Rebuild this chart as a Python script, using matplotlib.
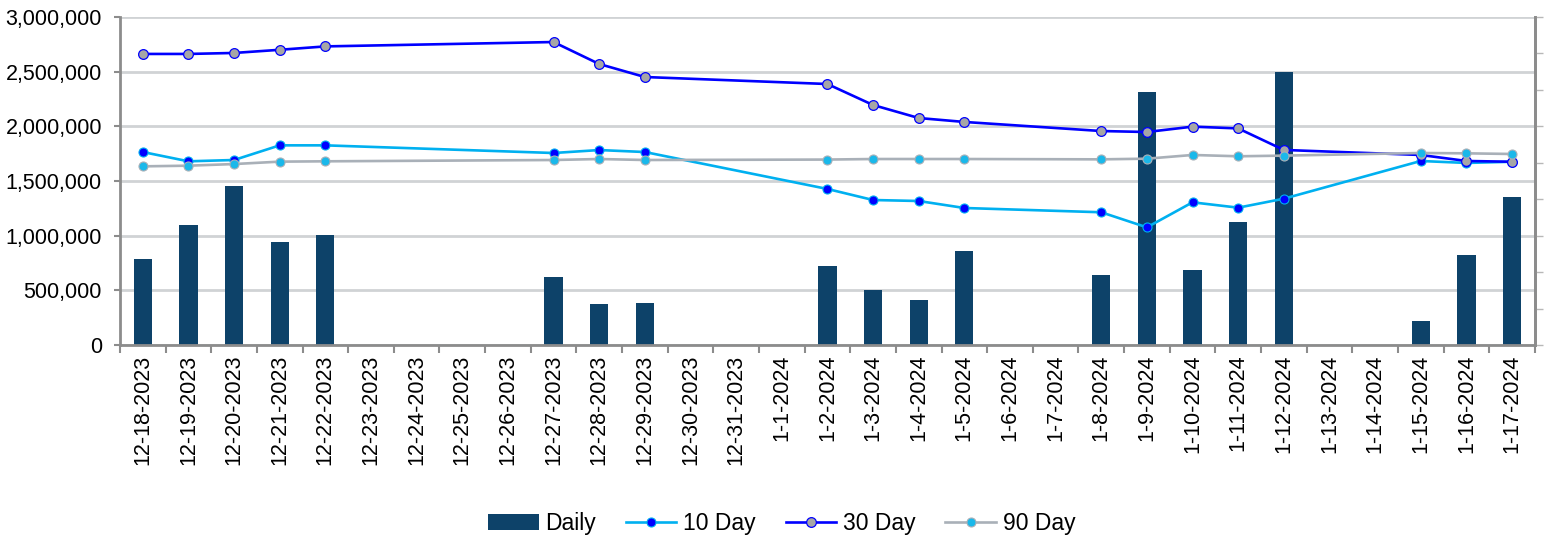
import numpy as np
import matplotlib
matplotlib.use("Agg")
import matplotlib.pyplot as plt
from matplotlib.ticker import FuncFormatter

plt.rcParams['font.family'] = ['Liberation Sans', 'DejaVu Sans']

dates = ["12-18-2023", "12-19-2023", "12-20-2023", "12-21-2023", "12-22-2023",
         "12-23-2023", "12-24-2023", "12-25-2023", "12-26-2023", "12-27-2023",
         "12-28-2023", "12-29-2023", "12-30-2023", "12-31-2023", "1-1-2024",
         "1-2-2024", "1-3-2024", "1-4-2024", "1-5-2024", "1-6-2024", "1-7-2024",
         "1-8-2024", "1-9-2024", "1-10-2024", "1-11-2024", "1-12-2024",
         "1-13-2024", "1-14-2024", "1-15-2024", "1-16-2024", "1-17-2024"]

# trading days only (others have no data)
trade_days = ["12-18-2023", "12-19-2023", "12-20-2023", "12-21-2023", "12-22-2023",
              "12-27-2023", "12-28-2023", "12-29-2023", "1-2-2024", "1-3-2024",
              "1-4-2024", "1-5-2024", "1-8-2024", "1-9-2024", "1-10-2024",
              "1-11-2024", "1-12-2024", "1-15-2024", "1-16-2024", "1-17-2024"]
daily = [790000, 1100000, 1455000, 945000, 1005000,
         622000, 375000, 384000, 723000, 503000,
         412000, 860000, 640000, 2314000, 686000,
         1125000, 2500000, 220000, 823000, 1356000]
day10 = [1765000, 1680000, 1692000, 1826000, 1826000,
         1756000, 1783000, 1765000, 1427000, 1326000,
         1317000, 1253000, 1214000, 1076000, 1305000,
         1256000, 1338000, 1683000, 1665000, 1676000]
day30 = [2662000, 2662000, 2671000, 2700000, 2731000,
         2771000, 2570000, 2451000, 2387000, 2195000,
         2076000, 2040000, 1957000, 1948000, 1997000,
         1981000, 1784000, 1738000, 1683000, 1676000]
day90 = [1634000, 1640000, 1655000, 1677000, 1680000,
         1692000, 1701000, 1692000, 1696000, 1701000,
         1701000, 1701000, 1698000, 1704000, 1738000,
         1726000, 1732000, 1756000, 1753000, 1747000]

x = np.array([dates.index(d) for d in trade_days])

fig = plt.figure(figsize=(15.48, 5.41), dpi=100)
ax = fig.add_axes([0.0775, 0.3623, 0.914, 0.6063])

grid_c = "#d0d3d5"
axis_c = "#8c8c8c"
fs = 15.5

ax.bar(x, daily, width=0.4, color="#0d4269", label="Daily", zorder=2)
ax.plot(x, day10, color="#00b0f0", lw=1.9, marker="o", ms=6.5,
        mfc="#0000ff", mec="#00b0f0", mew=0.8, label="10 Day", zorder=3)
ax.plot(x, day30, color="#0000ff", lw=1.9, marker="o", ms=7,
        mfc="#a6a6a6", mec="#0000ff", mew=0.9, label="30 Day", zorder=4)
ax.plot(x, day90, color="#a9b0b8", lw=1.9, marker="o", ms=6.5,
        mfc="#1ab8ea", mec="#a9b0b8", mew=0.8, label="90 Day", zorder=5)

ax.set_xlim(-0.5, len(dates) - 0.5)
ax.set_ylim(0, 3000000)
ax.set_yticks(np.arange(0, 3000001, 500000))
ax.yaxis.set_major_formatter(FuncFormatter(lambda v, p: f"{int(v):,}"))
ax.yaxis.grid(True, color=grid_c, lw=2, zorder=0)
ax.set_axisbelow(True)

ax.set_xticks(range(len(dates)))
ax.set_xticklabels(dates, rotation=90)
ax.set_xticks(np.arange(-0.5, len(dates)), minor=True)
ax.tick_params(axis="x", which="major", length=0, pad=7, labelsize=fs)
ax.tick_params(axis="x", which="minor", length=6, width=1.5, color=axis_c)
ax.tick_params(axis="y", length=4, width=1.5, color=axis_c, pad=9, labelsize=fs)

ax.spines["top"].set_visible(False)
for s in ["left", "bottom", "right"]:
    ax.spines[s].set_color(axis_c)
    ax.spines[s].set_linewidth(2)

# right axis: unlabeled ticks
ax2 = ax.twinx()
ax2.set_ylim(0, 1)
ax2.set_yticks(np.linspace(0, 1, 10))
ax2.set_yticklabels([])
ax2.tick_params(axis="y", direction="out", length=6, width=1, color="#b8b8b8")
ax2.spines["top"].set_visible(False)
ax2.spines["right"].set_color(axis_c)
ax2.spines["right"].set_linewidth(2)
ax2.spines["left"].set_visible(False)
ax2.spines["bottom"].set_visible(False)

h, l = ax.get_legend_handles_labels()
order = [l.index(n) for n in ["Daily", "10 Day", "30 Day", "90 Day"]]
fig.legend([h[i] for i in order], [l[i] for i in order], loc="center",
           bbox_to_anchor=(0.505, 0.032), ncol=4, frameon=False, fontsize=16.5,
           handlelength=2.2, columnspacing=1.3, handletextpad=0.3)

fig.savefig("out.png", dpi=100)
